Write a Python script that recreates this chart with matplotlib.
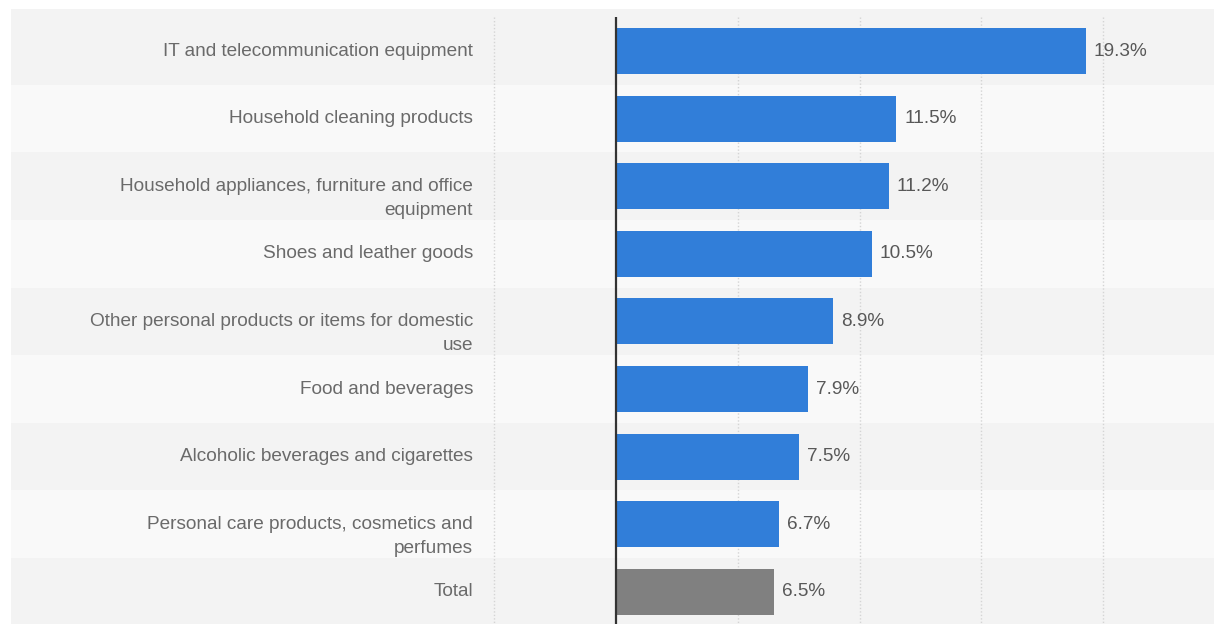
import matplotlib.pyplot as plt

categories = [
    "IT and telecommunication equipment",
    "Household cleaning products",
    "Household appliances, furniture and office\nequipment",
    "Shoes and leather goods",
    "Other personal products or items for domestic\nuse",
    "Food and beverages",
    "Alcoholic beverages and cigarettes",
    "Personal care products, cosmetics and\nperfumes",
    "Total",
]
values = [19.3, 11.5, 11.2, 10.5, 8.9, 7.9, 7.5, 6.7, 6.5]
grid_ticks = [-5, 5, 10, 15, 20]

BLUE = "#317ed9"
GREY = "#808080"
LABEL_COLOR = "#6a6a6a"
VALUE_COLOR = "#585858"

plt.rcParams["font.family"] = ["Liberation Sans", "DejaVu Sans"]

fig = plt.figure(figsize=(12.14, 6.24), dpi=100)
# axes covers the whole banded area, labels live inside it on the left
ax = fig.add_axes([11 / 1214, 0, 1 - 11 / 1214, 1 - 9 / 624])

px_per_unit = 24.35          # pixels per percentage point
row_px = 67.6                # pixels per row
x0_px = 616 - 11             # zero line position inside the axes
ax.set_xlim(-x0_px / px_per_unit, (1214 - 11 - x0_px) / px_per_unit)
ax.set_ylim((624 - 51) / row_px, -(51 - 9) / row_px)
ax.axis("off")

n = len(categories)
# alternating row bands
for i in range(n):
    color = "#f3f3f3" if i % 2 == 0 else "#f9f9f9"
    lo = i - 0.5 if i > 0 else -1.0
    hi = i + 0.5 if i < n - 1 else n + 1
    ax.axhspan(lo, hi, color=color, zorder=0, lw=0)

# dotted grid and zero axis
ax.vlines(grid_ticks, -0.5, n, colors="#d4d4d4", linestyles=(0, (1, 1.5)),
          lw=1, zorder=1)
ax.vlines(0, -0.5, n, colors="#333333", lw=1.6, zorder=3)

colors = [BLUE] * (n - 1) + [GREY]
ax.barh(range(n), values, height=0.68, color=colors, zorder=2)

label_x = (473 - 616) / px_per_unit
line_step = 24 / row_px
for i, (cat, val) in enumerate(zip(categories, values)):
    for k, line in enumerate(cat.split("\n")):
        ax.text(label_x, i + k * line_step, line, ha="right", va="center",
                fontsize=13.7, color=LABEL_COLOR)
    ax.text(val + 8 / px_per_unit, i, f"{val}%", ha="left", va="center",
            fontsize=13.7, color=VALUE_COLOR)

fig.savefig("out.png", dpi=100)
